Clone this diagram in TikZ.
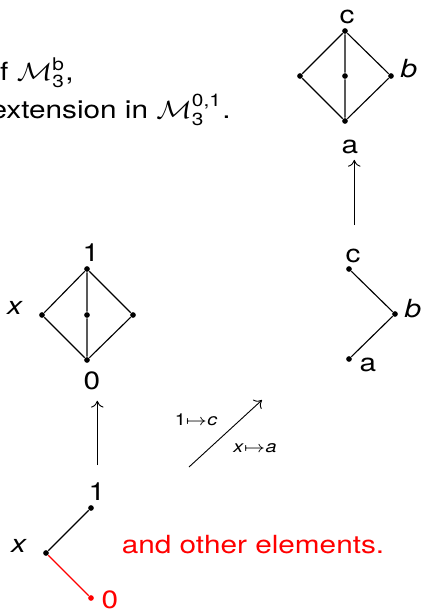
\documentclass[tikz,border=0pt]{standalone}
\usepackage{amsmath}
\usepackage{graphicx}
\usepackage{fontspec}
\usetikzlibrary{arrows.meta}
\setmainfont{TeX Gyre Heros}
\setsansfont{TeX Gyre Heros}
\newcommand\hz[1]{\scalebox{1.19}[1]{#1}}
\begin{document}
\begin{tikzpicture}[x=0.44pt,y=-0.44pt,
  every node/.style={font=\fontsize{11}{13}\selectfont},
  dot/.style={circle,fill,inner sep=0pt,minimum size=2.5pt},
  lbl/.style={inner sep=0pt},
  small/.style={inner sep=0pt,font=\fontsize{7.3}{9}\selectfont},
  edge/.style={line width=0.5pt},
  arr/.style={line width=0.4pt,-{To[length=3pt,width=5.5pt]}}]
\useasboundingbox (0,0) rectangle (422,611);

% top text
\node[lbl,anchor=base east] (t1) at (74,80) {\hz{of $\mathcal{M}_{\text{3}}^{\mathrm{b}}$,}};
\node[lbl,anchor=base east] (t2) at (231,118) {\hz{extension in $\mathcal{M}_{\text{3}}^{\text{0,1}}$.}};

% top-right diamond
\node[dot] (rc) at (345,31) {};
\node[dot] (rl) at (300,76) {};
\node[dot] (rm) at (345,76) {};
\node[dot] (rr) at (391,76) {};
\node[dot] (ra) at (345,121) {};
\draw[edge] (rc) -- (rl) -- (ra) -- (rr) -- (rc) -- (rm) -- (ra);
\node[lbl] (rcl) at (347,17) {\hz{c}};
\node[lbl] (rbl) at (409,69) {\hz{\textit{b}}};
\node[lbl] (ral) at (350,147) {\hz{a}};
\coordinate (rarrb) at (354.3,225);
\draw[arr,shorten >=2.4pt] (rarrb) -- (rarrb |- ral.south);

% right chain
\node[dot] (sc) at (349,269) {};
\node[dot] (sb) at (395,314) {};
\node[dot] (sa) at (349,359) {};
\draw[edge] (sc) -- (sb) -- (sa);
\node[lbl] (scl) at (353,256) {\hz{c}};
\node[lbl] (sbl) at (413,309) {\hz{\textit{b}}};
\node[lbl] (sal) at (368,365) {\hz{a}};

% left diamond
\node[dot] (l1) at (87,269) {};
\node[dot] (lx) at (42,315) {};
\node[dot] (lm) at (87,315) {};
\node[dot] (lr) at (133,315) {};
\node[dot] (l0) at (87,360) {};
\draw[edge] (l1) -- (lx) -- (l0) -- (lr) -- (l1) -- (lm) -- (l0);
\node[lbl] (l1l) at (91,253) {\hz{1}};
\node[lbl] (lxl) at (15,308) {\hz{\textit{x}}};
\node[lbl] (l0l) at (92,381) {\hz{0}};
\coordinate (larrb) at (97.3,465);
\draw[arr,shorten >=4.5pt] (larrb) -- (larrb |- l0l.south);

% diagonal map arrow
\coordinate (ds) at (189,467);
\coordinate (de) at (262,400);
\draw[arr] (ds) -- (de);
\node[small] (m1) at (196,420) {\hz{1$\mapsto$\textit{c}}};
\node[small] (m2) at (255,448) {\hz{\textit{x}$\mapsto$\textit{a}}};

% bottom chain
\node[dot] (b1) at (91,508) {};
\node[dot] (bx) at (46,553) {};
\node[dot,red] (b0) at (91,598) {};
\draw[edge] (b1) -- (bx);
\draw[edge,red] (bx) -- (b0);
\node[lbl] (b1l) at (97,492) {\hz{1}};
\node[lbl] (bxl) at (19,546) {\hz{\textit{x}}};
\node[lbl,red] (b0l) at (110,600) {\hz{0}};
\node[lbl,red] (other) at (253,545) {\hz{and other elements.}};
\end{tikzpicture}
\end{document}
